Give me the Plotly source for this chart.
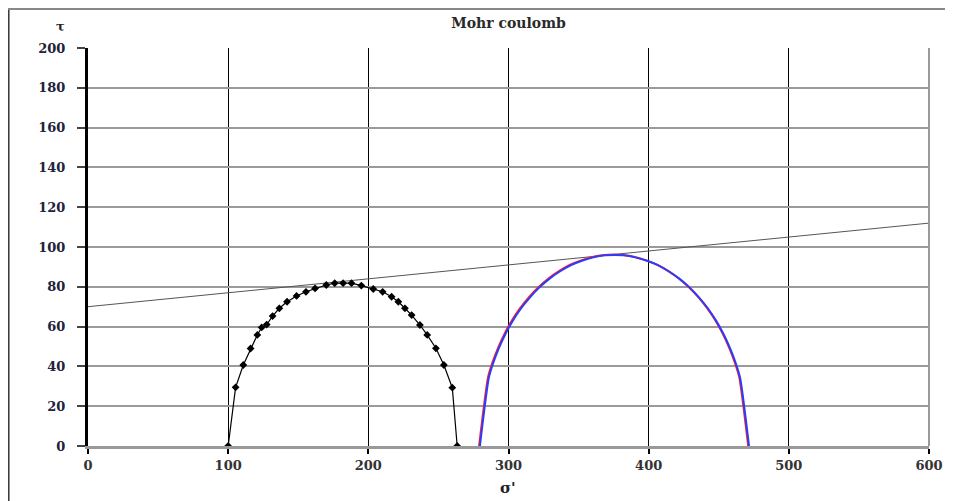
import plotly.graph_objects as go

# ---- data ----
circle1_x = [100, 105.3, 110.8, 116, 120.8, 123.9, 127.5, 131.7, 136.5, 142, 148.8, 155.5, 162, 170, 176, 182, 188,
             195, 203.5, 210.2, 216.6, 221.4, 226.1, 230.9, 236.8, 242, 248.2, 253.9, 259.9, 263.4]
circle1_y = [0, 29.5, 40.7, 49, 55.8, 59.6, 61, 65.3, 69.2, 72.5, 75.4, 77.5, 79.2, 80.9, 81.8, 81.8, 81.8,
             80.6, 78.9, 77.5, 75, 72.5, 69.2, 65.8, 60.8, 55.8, 49.1, 40.7, 29.3, 0]

circle2_blue_x = [279.6, 286.0, 289.3, 293.3, 297.9, 303.1, 308.9, 315.2, 321.9, 329.1, 336.6, 344.3, 352.4,
                  360.6, 368.9, 375.6, 382.3, 390.6, 398.8, 406.9, 414.6, 422.1, 429.3, 436.0, 442.3,
                  448.1, 453.3, 457.9, 461.9, 465.2, 471.6]
circle2_blue_y = [0, 34.4, 42.1, 49.4, 56.4, 63.0, 69.1, 74.6, 79.6, 84.0, 87.7, 90.8, 93.1,
                  94.8, 95.8, 96.0, 95.8, 94.8, 93.1, 90.8, 87.7, 84.0, 79.6, 74.6, 69.1,
                  63.0, 56.4, 49.4, 42.1, 34.4, 0]
circle2_red_x = [279.0, 285.4, 288.7, 292.7, 297.3, 302.5, 308.3, 314.6, 321.3, 328.5, 336.0, 343.7, 351.8,
                 360.0, 368.3, 375.0, 381.7, 390.0, 398.2, 406.3, 414.0, 421.5, 428.7, 435.4, 441.7,
                 447.5, 452.7, 457.3, 461.3, 464.6, 471.0]
circle2_red_y = [0, 34.6, 42.3, 49.6, 56.6, 63.2, 69.3, 74.8, 79.8, 84.2, 87.9, 91.0, 93.3,
                 95.0, 96.0, 96.2, 96.0, 95.0, 93.3, 91.0, 87.9, 84.2, 79.8, 74.8, 69.3,
                 63.2, 56.6, 49.6, 42.3, 34.6, 0]

envelope_x = [0, 600]
envelope_y = [70, 112]

x_ticks = [0, 100, 200, 300, 400, 500, 600]
y_ticks = [0, 20, 40, 60, 80, 100, 120, 140, 160, 180, 200]

SERIF = "DejaVu Serif"

# figure is placed 8px in from the page edge (default body margin), so size/margins compensate
W, H = 945, 493
ML, MR, MT, MB = 80, 24, 40, 55
PW = W - ML - MR
PH = H - MT - MB


def px(xsvg):
    return (xsvg - ML) / PW


def py(ysvg):
    return (MT + PH - ysvg) / PH


fig = go.Figure()
fig.add_trace(go.Scatter(x=envelope_x, y=envelope_y, mode="lines",
                         line=dict(color="#555555", width=1), showlegend=False))
fig.add_trace(go.Scatter(x=circle1_x, y=circle1_y, mode="lines+markers",
                         line=dict(color="black", width=1.2),
                         marker=dict(symbol="diamond", size=6, color="black"), showlegend=False))
fig.add_trace(go.Scatter(x=circle2_red_x, y=circle2_red_y, mode="lines",
                         line=dict(color="#ff2020", width=2, shape="spline", smoothing=0.6),
                         showlegend=False))
fig.add_trace(go.Scatter(x=circle2_blue_x, y=circle2_blue_y, mode="lines",
                         line=dict(color="#2a3cff", width=2, shape="spline", smoothing=0.6),
                         showlegend=False))

fig.update_layout(
    width=W, height=H,
    margin=dict(l=ML, r=MR, t=MT, b=MB, autoexpand=False),
    paper_bgcolor="white", plot_bgcolor="white",
    title=dict(text="<b>Mohr coulomb</b>", x=0.5, xref="paper", y=1 - 15 / H, yanchor="middle",
               xanchor="center", font=dict(family=SERIF, size=14, color="#2a2a2a")),
    xaxis=dict(range=[0, 600], tickvals=x_ticks, ticktext=[str(v) for v in x_ticks],
               showgrid=True, gridcolor="black", gridwidth=1.3,
               showline=True, linecolor="#999999", linewidth=3,
               ticks="outside", ticklen=5, tickcolor="black", tickwidth=2,
               tickfont=dict(family=SERIF, size=13, color="#333333", weight="bold"),
               zeroline=False, fixedrange=True, automargin=False),
    yaxis=dict(range=[0, 200], tickvals=y_ticks, ticktext=[str(v) for v in y_ticks],
               showgrid=True, gridcolor="#9a9a9a", gridwidth=1.5,
               showline=True, linecolor="black", linewidth=3,
               ticks="outside", ticklen=8, tickcolor="#444444", tickwidth=2,
               ticklabelstandoff=9,
               tickfont=dict(family=SERIF, size=13, color="#22223a", weight="bold"),
               zeroline=False, fixedrange=True, automargin=False),
    annotations=[
        dict(text="<b>τ</b>", xref="paper", yref="paper", x=px(52), y=py(18),
             showarrow=False, font=dict(family=SERIF, size=13, color="#222222"),
             xanchor="center", yanchor="middle"),
        dict(text="<b>σ'</b>", xref="paper", yref="paper", x=px(500), y=py(480),
             showarrow=False, font=dict(family=SERIF, size=15, color="#222222"),
             xanchor="center", yanchor="middle"),
    ],
    shapes=[
        # outer chart frame (left and top edges visible)
        dict(type="line", xref="paper", yref="paper", x0=px(0.8), x1=px(0.8),
             y0=py(1), y1=py(H + 5), line=dict(color="#333333", width=1.5)),
        dict(type="line", xref="paper", yref="paper", x0=px(0), x1=px(W + 5),
             y0=py(1), y1=py(1), line=dict(color="#888888", width=2)),
        # right edge of plot area
        dict(type="line", xref="paper", yref="paper", x0=1, x1=1, y0=0, y1=1,
             line=dict(color="#9a9a9a", width=2), layer="above"),
    ],
)

fig.write_html("out.html")
